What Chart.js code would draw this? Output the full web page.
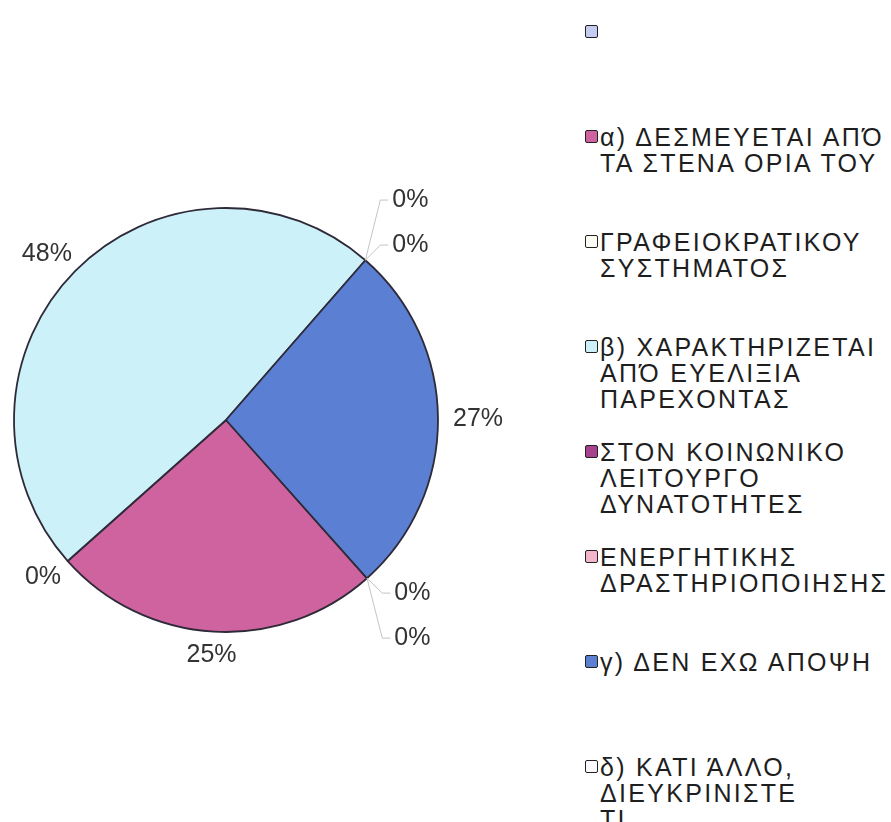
<!DOCTYPE html>
<html><head><meta charset="utf-8">
<script src="https://cdn.jsdelivr.net/npm/chart.js@4"></script>
<style>
html,body{margin:0;padding:0;background:#fff;width:891px;height:822px;overflow:hidden;}
#wrap{position:absolute;left:0;top:0;width:560px;height:822px;}
#legend{position:absolute;left:585px;top:19px;font-family:"Liberation Sans",Arial,sans-serif;font-size:25px;letter-spacing:2.3px;color:#1e1e1e;}
.item{height:105px;display:flex;align-items:flex-start;}
.sw{width:11px;height:11px;border:1.6px solid #222;border-radius:2px;margin-top:6px;margin-right:2px;flex:none;}
.txt{line-height:26px;white-space:nowrap;}
</style></head><body>
<div id="wrap"><canvas id="c"></canvas></div>
<div id="legend"></div>
<script>
const categories = [
  "",
  "α) ΔΕΣΜΕΥΕΤΑΙ ΑΠΌ\nΤΑ ΣΤΕΝΑ ΟΡΙΑ ΤΟΥ",
  "ΓΡΑΦΕΙΟΚΡΑΤΙΚΟΥ\nΣΥΣΤΗΜΑΤΟΣ",
  "β) ΧΑΡΑΚΤΗΡΙΖΕΤΑΙ\nΑΠΌ ΕΥΕΛΙΞΙΑ\nΠΑΡΕΧΟΝΤΑΣ",
  "ΣΤΟΝ ΚΟΙΝΩΝΙΚΟ\nΛΕΙΤΟΥΡΓΟ\nΔΥΝΑΤΟΤΗΤΕΣ",
  "ΕΝΕΡΓΗΤΙΚΗΣ\nΔΡΑΣΤΗΡΙΟΠΟΙΗΣΗΣ",
  "γ) ΔΕΝ ΕΧΩ ΑΠΟΨΗ",
  "δ) ΚΑΤΙ ΆΛΛΟ,\nΔΙΕΥΚΡΙΝΙΣΤΕ\nΤΙ..............."
];
const values = [0, 25, 0, 48, 0, 0, 27, 0];
const sliceColors = ["#c6cbf2", "#cf63a0", "#fdfdf6", "#cdf1f9", "#a8418e", "#f2b5cb", "#5a7fd3", "#fafaff"];

function angleDiff(a, b) {
  const t = Math.PI * 2;
  return ((((a - b) % t) + t * 1.5) % t) - Math.PI;
}

const pctLabels = {
  id: 'pctLabels',
  afterDatasetsDraw(chart, args, opts) {
    const ctx = chart.ctx;
    const meta = chart.getDatasetMeta(0);
    const total = values.reduce((a, b) => a + b, 0);
    ctx.save();
    ctx.font = opts.font;
    ctx.fillStyle = opts.color;
    ctx.textBaseline = 'middle';
    const h = opts.textHeight;
    const items = meta.data.map((arc, i) => {
      const p = arc.getProps(['x', 'y', 'startAngle', 'endAngle', 'outerRadius'], true);
      const mid = (p.startAngle + p.endAngle) / 2;
      const dx = Math.cos(mid), dy = Math.sin(mid);
      const text = Math.round(values[i] / total * 100) + '%';
      const w = ctx.measureText(text).width;
      return {i, text, w, dx, dy, mid, x: p.x, y: p.y, r: p.outerRadius,
        ex: p.x + dx * p.outerRadius, ey: p.y + dy * p.outerRadius};
    });
    const groups = [];
    items.forEach(it => {
      const g = groups.find(g => Math.abs(angleDiff(g[0].mid, it.mid)) < 0.05);
      if (g) g.push(it); else groups.push([it]);
    });
    groups.forEach(g => {
      if (g.length === 1) {
        const it = g[0];
        const d = it.r + opts.gap;
        const ax = it.x + it.dx * d, ay = it.y + it.dy * d;
        const cx = ax + it.dx * it.w / 2, cy = ay + it.dy * h / 2;
        ctx.textAlign = 'center';
        ctx.fillText(it.text, cx, cy);
      } else {
        const it0 = g[0];
        const d = it0.r + opts.leaderGap;
        const ax = it0.x + it0.dx * d, ay = it0.y + it0.dy * d;
        const cy0 = ay + it0.dy * h / 2;
        const right = it0.dx >= 0;
        g.forEach((it, k) => {
          const cy = cy0 + (k - (g.length - 1) / 2) * opts.spacing;
          ctx.save();
          ctx.strokeStyle = opts.leaderColor;
          ctx.lineWidth = 1;
          ctx.beginPath();
          ctx.moveTo(it.ex, it.ey);
          const lx = right ? ax - 4 : ax + 4;
          ctx.lineTo(lx - (right ? 8 : -8), cy);
          ctx.lineTo(lx, cy);
          ctx.stroke();
          ctx.restore();
          ctx.textAlign = right ? 'left' : 'right';
          ctx.fillText(it.text, ax, cy);
        });
      }
    });
    ctx.restore();
  }
};

new Chart(document.getElementById('c'), {
  type: 'pie',
  data: {
    labels: categories,
    datasets: [{
      data: values,
      backgroundColor: sliceColors,
      borderColor: '#2e2a38',
      borderWidth: 1.8
    }]
  },
  options: {
    responsive: true,
    maintainAspectRatio: false,
    animation: false,
    rotation: 138.3,
    radius: 212,
    layout: {padding: {left: 0, right: 108, top: 18, bottom: 0}},
    plugins: {
      legend: {display: false},
      tooltip: {enabled: false},
      pctLabels: {
        font: '25px "Liberation Sans", Arial, sans-serif',
        color: '#333',
        textHeight: 18,
        gap: 15,
        leaderGap: 41,
        spacing: 45,
        leaderColor: '#c4c4c4'
      }
    }
  },
  plugins: [pctLabels]
});

const legend = document.getElementById('legend');
categories.forEach((cat, i) => {
  const item = document.createElement('div');
  item.className = 'item';
  const sw = document.createElement('div');
  sw.className = 'sw';
  sw.style.background = sliceColors[i];
  const txt = document.createElement('div');
  txt.className = 'txt';
  cat.split('\n').forEach((line, j) => {
    if (j) txt.appendChild(document.createElement('br'));
    txt.appendChild(document.createTextNode(line));
  });
  item.appendChild(sw);
  item.appendChild(txt);
  legend.appendChild(item);
});
</script>
</body></html>
